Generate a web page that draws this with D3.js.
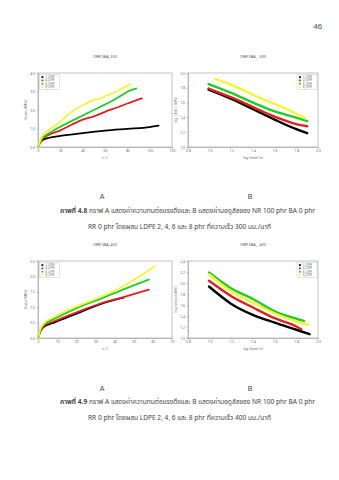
<!DOCTYPE html>
<html><head><meta charset="utf-8">
<script src="https://cdn.jsdelivr.net/npm/d3@7"></script>
<style>body{margin:0;background:#fff}svg{display:block}</style>
</head><body>
<svg id="c" width="339" height="480"></svg>
<script>
// ---------- data ----------
const seriesColors = ["#000000", "#e02020", "#22cc22", "#f4f43a"];
const legendLabels = ["2_LDPE", "4_LDPE", "6_LDPE", "8_LDPE"];

// Chart A, 300 mm/min : stress vs strain
const a300_2 = [[0,0],[2,0.25],[5,0.4],[10,0.5],[20,0.6],[40,0.75],[60,0.88],[80,0.98],[100,1.08],[108,1.15]];
const a300_4 = [[0,0],[3,0.35],[6,0.53],[12,0.72],[20,0.9],[30,1.2],[40,1.48],[50,1.65],[60,1.9],[70,2.12],[80,2.35],[93,2.63]];
const a300_6 = [[0,0],[3,0.42],[8,0.68],[15,0.93],[25,1.25],[35,1.55],[45,1.85],[55,2.15],[65,2.45],[75,2.8],[82,3.05],[88,3.16]];
const a300_8 = [[0,0],[3,0.5],[8,0.85],[15,1.15],[22,1.48],[30,1.9],[38,2.2],[45,2.4],[50,2.55],[55,2.6],[62,2.8],[70,3.0],[77,3.22],[83,3.39]];

// Chart B, 300 mm/min : log modulus vs log time
const b300_2 = [[0.99,1.775],[1.2,1.65],[1.415,1.5],[1.6,1.37],[1.8,1.24],[1.9,1.186]];
const b300_4 = [[0.99,1.79],[1.2,1.67],[1.415,1.53],[1.6,1.41],[1.8,1.31],[1.9,1.28]];
const b300_6 = [[0.99,1.85],[1.2,1.73],[1.415,1.59],[1.6,1.48],[1.79,1.40],[1.9,1.35]];
const b300_8 = [[1.05,1.92],[1.2,1.84],[1.5,1.64],[1.7,1.52],[1.88,1.39]];

// Chart A, 400 mm/min
const a400_2 = [[0,0],[1.5,0.25],[3,0.36],[8.4,0.5],[20.5,0.8],[32.6,1.1],[44.7,1.31]];
const a400_4 = [[0,0],[1.5,0.27],[3,0.39],[8.4,0.54],[20.5,0.84],[32.6,1.12],[44.7,1.33],[57.9,1.57]];
const a400_6 = [[0,0],[1.5,0.3],[3,0.43],[8.4,0.62],[20.5,0.98],[32.6,1.27],[44.7,1.58],[57.9,1.9]];
const a400_8 = [[0,0],[1.5,0.33],[3,0.47],[8.4,0.68],[20.5,1.03],[32.6,1.33],[44.7,1.69],[61,2.32]];

// Chart B, 400 mm/min
const b400_2 = [[0.994,1.936],[1.2,1.62],[1.404,1.416],[1.6,1.28],[1.8,1.15],[1.922,1.07]];
const b400_4 = [[0.994,2.04],[1.2,1.76],[1.4,1.554],[1.6,1.36],[1.8,1.21],[1.845,1.16]];
const b400_6 = [[0.994,2.19],[1.2,1.90],[1.4,1.71],[1.6,1.485],[1.8,1.35],[1.87,1.31]];
const b400_8 = [[0.994,2.16],[1.2,1.845],[1.4,1.64],[1.6,1.45],[1.8,1.30],[1.913,1.24]];

const aTicksX300 = [0,20,40,60,80,100,120];
const aTicksY300 = [0,1,2,3,4];
const aTicksX400 = [0,10,20,30,40,50,60,70];
const aTicksY400 = [0,0.5,1,1.5,2,2.5];
const bTicksX = [0.8,1.0,1.2,1.4,1.6,1.8,2.0];
const bTicksY300 = [1.0,1.2,1.4,1.6,1.8,2.0];
const bTicksY400 = [1.0,1.2,1.4,1.6,1.8,2.0,2.2,2.4];

const titles = ["DRR SBA_300", "DRR SBA _ 300", "DRR SBA_400", "DRR SBA _ 400"];
const pageNumber = "46";
const captions = [
  ["ภาพที่ 4.8", " กราฟ A แสดงค่าความทนต่อแรงดึงและ B แสดงค่ามอดูลัสของ NR 100 phr BA 0 phr", "RR 0 phr โดยผสม LDPE 2, 4, 6 และ 8 phr ที่ความเร็ว 300 มม./นาที"],
  ["ภาพที่ 4.9", " กราฟ A แสดงค่าความทนต่อแรงดึงและ B แสดงค่ามอดูลัสของ NR 100 phr BA 0 phr", "RR 0 phr โดยผสม LDPE 2, 4, 6 และ 8 phr ที่ความเร็ว 400 มม./นาที"]
];

// ---------- drawing ----------
const svg = d3.select("#c");
const FONT = "'Noto Sans Thai','Noto Sans','DejaVu Sans',sans-serif";

function drawChart(cfg) {
  const g = svg.append("g").attr("transform", `translate(${cfg.x0},${cfg.y0})`);
  const x = d3.scaleLinear().domain(cfg.xDomain).range([0, cfg.w]);
  const y = d3.scaleLinear().domain(cfg.yDomain).range([cfg.h, 0]);

  g.append("rect").attr("width", cfg.w).attr("height", cfg.h)
    .attr("fill", "none").attr("stroke", "#9a9a9a").attr("stroke-width", 0.6);

  const ax = g.append("g").attr("transform", `translate(0,${cfg.h})`)
    .call(d3.axisBottom(x).tickValues(cfg.xTicks).tickSize(1.5).tickPadding(1.5).tickFormat(cfg.xFmt));
  const ay = g.append("g")
    .call(d3.axisLeft(y).tickValues(cfg.yTicks).tickSize(1.5).tickPadding(1.5).tickFormat(cfg.yFmt));
  [ax, ay].forEach(a => {
    a.select(".domain").attr("stroke", "#9a9a9a").attr("stroke-width", 0.6);
    a.selectAll(".tick line").attr("stroke", "#9a9a9a").attr("stroke-width", 0.5);
    a.selectAll(".tick text").attr("font-size", 3.4).attr("fill", "#666").attr("font-family", FONT);
  });

  const line = d3.line().x(d => x(d[0])).y(d => y(d[1])).curve(d3.curveMonotoneX);
  cfg.series.forEach((s, i) => {
    g.append("path").datum(s).attr("d", line).attr("fill", "none")
      .attr("stroke", seriesColors[i]).attr("stroke-width", cfg.sw)
      .attr("stroke-linejoin", "round").attr("stroke-linecap", "round");
  });

  // legend
  const lw = 20, lh = 15;
  const lx = cfg.legendRight ? cfg.w - lw - 1 : 1.5;
  const lg = g.append("g").attr("transform", `translate(${lx},1.5)`);
  lg.append("rect").attr("width", lw).attr("height", lh).attr("fill", "#fff")
    .attr("stroke", "#bbb").attr("stroke-width", 0.4);
  legendLabels.forEach((lab, i) => {
    const yy = 2.6 + i * 3.3;
    lg.append("rect").attr("x", 2).attr("y", yy - 0.9).attr("width", 1.8).attr("height", 1.8)
      .attr("fill", seriesColors[i]);
    lg.append("text").attr("x", 6).attr("y", yy + 1).attr("font-size", 2.6)
      .attr("fill", "#666").attr("font-family", FONT).text(lab);
  });

  // titles
  svg.append("text").attr("x", cfg.x0 + cfg.w / 2).attr("y", cfg.y0 - 15)
    .attr("text-anchor", "middle").attr("font-size", 3.8).attr("fill", "#555")
    .attr("font-family", FONT).text(cfg.title);
  svg.append("text").attr("x", cfg.x0 + cfg.w / 2).attr("y", cfg.y0 + cfg.h + 12)
    .attr("text-anchor", "middle").attr("font-size", 3.4).attr("fill", "#666")
    .attr("font-family", FONT).text(cfg.xLabel);
  svg.append("text")
    .attr("transform", `translate(${cfg.x0 - 11},${cfg.y0 + cfg.h / 2}) rotate(-90)`)
    .attr("text-anchor", "middle").attr("font-size", 3.4).attr("fill", "#666")
    .attr("font-family", FONT).text(cfg.yLabel);
  svg.append("text").attr("x", cfg.x0 + cfg.w / 2 - 3).attr("y", cfg.panelY)
    .attr("text-anchor", "middle").attr("font-size", 7).attr("fill", "#444")
    .attr("font-family", "'Liberation Sans',sans-serif").text(cfg.panel);
}

const f1 = d3.format(".1f"), f0 = d3.format("d");
const rows = [
  {y0: 73, h: 74, panelY: 199},
  {y0: 261, h: 77, panelY: 391}
];

drawChart({x0: 38, y0: rows[0].y0, w: 134, h: rows[0].h, xDomain: [0,120], yDomain: [0,4],
  xTicks: aTicksX300, yTicks: aTicksY300, xFmt: f0, yFmt: f1, title: titles[0],
  xLabel: "ε (-)", yLabel: "Stress (MPa)", series: [a300_2,a300_4,a300_6,a300_8],
  legendRight: false, sw: 1.8, panel: "A", panelY: rows[0].panelY});
drawChart({x0: 188, y0: rows[0].y0, w: 130, h: rows[0].h, xDomain: [0.8,2.0], yDomain: [1.0,2.0],
  xTicks: bTicksX, yTicks: bTicksY300, xFmt: f1, yFmt: f1, title: titles[1],
  xLabel: "log (time) (s)", yLabel: "log | E(t) | (kPa)", series: [b300_2,b300_4,b300_6,b300_8],
  legendRight: true, sw: 2.4, panel: "B", panelY: rows[0].panelY});
drawChart({x0: 38, y0: rows[1].y0, w: 134, h: rows[1].h, xDomain: [0,70], yDomain: [0,2.5],
  xTicks: aTicksX400, yTicks: aTicksY400, xFmt: f0, yFmt: f1, title: titles[2],
  xLabel: "ε (-)", yLabel: "Stress (MPa)", series: [a400_2,a400_4,a400_6,a400_8],
  legendRight: false, sw: 1.8, panel: "A", panelY: rows[1].panelY});
drawChart({x0: 188, y0: rows[1].y0, w: 130, h: rows[1].h, xDomain: [0.8,2.0], yDomain: [1.0,2.4],
  xTicks: bTicksX, yTicks: bTicksY400, xFmt: f1, yFmt: f1, title: titles[3],
  xLabel: "log (time) (s)", yLabel: "log (stress) (kPa)", series: [b400_2,b400_4,b400_6,b400_8],
  legendRight: true, sw: 2.4, panel: "B", panelY: rows[1].panelY});

// page number
svg.append("text").attr("x", 322).attr("y", 29).attr("text-anchor", "end")
  .attr("font-size", 7.5).attr("fill", "#444").attr("font-family", FONT).text(pageNumber);

// captions
const capY = [[213, 229], [404, 420]];
captions.forEach((c, i) => {
  const t = svg.append("text").attr("x", 60).attr("y", capY[i][0]).attr("font-size", 6.6)
    .attr("fill", "#444").attr("font-family", FONT);
  t.append("tspan").attr("font-weight", "bold").text(c[0]);
  t.append("tspan").text(c[1]);
  svg.append("text").attr("x", 88).attr("y", capY[i][1]).attr("font-size", 6.6)
    .attr("fill", "#444").attr("font-family", FONT).text(c[2]);
});
</script>
</body></html>
